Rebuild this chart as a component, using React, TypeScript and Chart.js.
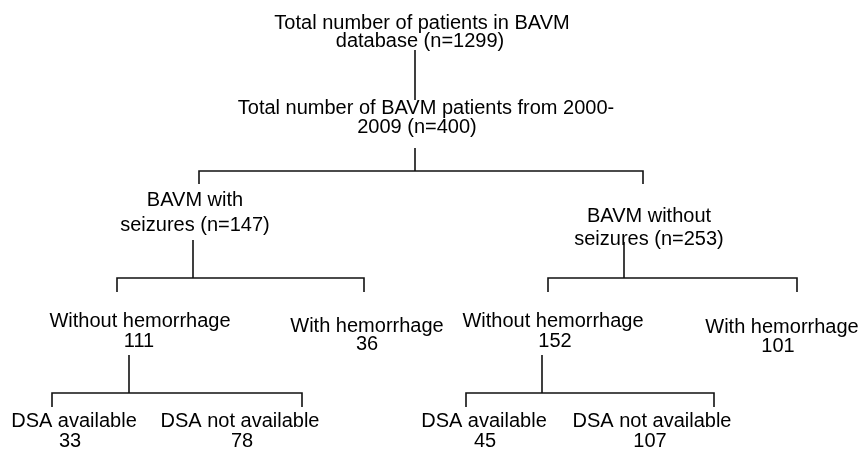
import React, { useEffect, useRef } from "react";
import { Chart, registerables } from "chart.js";

Chart.register(...registerables);

// Flowchart text (each entry is one line of a node), with its position in chart units
const textLines = [
  "Total number of patients in BAVM",
  "database (n=1299)",
  "Total number of BAVM patients from 2000-",
  "2009 (n=400)",
  "BAVM with",
  "seizures (n=147)",
  "BAVM without",
  "seizures (n=253)",
  "Without hemorrhage",
  "111",
  "With hemorrhage",
  "36",
  "Without hemorrhage",
  "152",
  "With hemorrhage",
  "101",
  "DSA available",
  "33",
  "DSA not available",
  "78",
  "DSA available",
  "45",
  "DSA not available",
  "107",
];
const textX = [422, 420, 426, 417, 195, 195, 649, 649, 140, 139, 367, 367, 553, 555, 782, 778, 74, 70, 240, 242, 484, 485, 652, 650];
const textY = [23, 41, 108, 127, 200, 225, 216, 239, 321, 341, 326, 344, 321, 341, 327, 346, 421, 441, 421, 441, 421, 441, 421, 441];

// Connectors: stem from parent down to the bar, bar spanning the children, drops to children
const stemX = [415, 415, 193, 624, 129, 542];
const stemTop = [50, 148, 240, 242, 355, 355];
const barY = [100, 171, 278, 278, 393, 393];
const barLeft = [null, 199, 117, 548, 52, 466];
const barRight = [null, 643, 364, 797, 302, 714];
const dropBottom = [null, 184, 292, 292, 407, 407];

const W = 859;
const H = 452;

export default function App() {
  const ref = useRef<HTMLCanvasElement | null>(null);

  useEffect(() => {
    if (!ref.current) return;
    const datasets: any[] = [];
    const lineStyle = {
      showLine: true,
      pointRadius: 0,
      borderColor: "#111",
      borderWidth: 1.6,
      tension: 0,
      fill: false,
      borderCapStyle: "butt",
      borderJoinStyle: "miter",
    };
    stemX.forEach((x, i) => {
      datasets.push({
        ...lineStyle,
        data: [
          { x, y: stemTop[i] },
          { x, y: barY[i] },
        ],
      });
      if (barLeft[i] !== null) {
        const l = barLeft[i] as number;
        const r = barRight[i] as number;
        const d = dropBottom[i] as number;
        datasets.push({
          ...lineStyle,
          data: [
            { x: l, y: d },
            { x: l, y: barY[i] },
            { x: r, y: barY[i] },
            { x: r, y: d },
          ],
        });
      }
    });

    const textPlugin = {
      id: "flowText",
      afterDatasetsDraw(chart: any) {
        const { ctx, scales } = chart;
        ctx.save();
        ctx.font = "20px 'Liberation Sans', Arial, sans-serif";
        ctx.fillStyle = "#000";
        ctx.textAlign = "center";
        ctx.textBaseline = "middle";
        textLines.forEach((t, i) => {
          ctx.fillText(t, scales.x.getPixelForValue(textX[i]), scales.y.getPixelForValue(textY[i]));
        });
        ctx.restore();
      },
    };

    const chart = new Chart(ref.current, {
      type: "scatter",
      data: { datasets },
      options: {
        animation: false,
        responsive: false,
        maintainAspectRatio: false,
        layout: { padding: 0 },
        plugins: { legend: { display: false }, tooltip: { enabled: false } },
        scales: {
          x: { type: "linear", min: 0, max: W, display: false },
          y: { type: "linear", min: 0, max: H, reverse: true, display: false },
        },
      },
      plugins: [textPlugin],
    } as any);
    return () => chart.destroy();
  }, []);

  return (
    <div style={{ position: "fixed", left: 0, top: 0, width: W, height: H, background: "#fff" }}>
      <canvas ref={ref} width={W} height={H} style={{ width: W, height: H, display: "block" }} />
    </div>
  );
}
